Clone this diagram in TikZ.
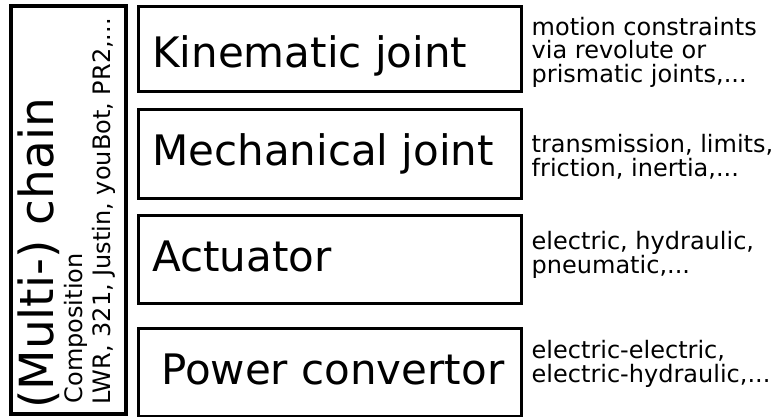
\documentclass[tikz,border=0pt]{standalone}
\usepackage{fontspec}
\setmainfont{DejaVu Sans}
\begin{document}
\begin{tikzpicture}[x=1pt,y=-1pt,
  layer/.style={draw=black,line width=3pt},
  big/.style={inner sep=0pt,anchor=base west,font=\fontsize{42}{46}\selectfont},
  desc/.style={inner sep=0pt,anchor=base west,align=left,font=\fontsize{24}{23.5}\selectfont},
  side/.style={inner sep=0pt,anchor=base west,rotate=90}]
\useasboundingbox (0,0) rectangle (775,416);
% left composition box
\draw[line width=3.5pt] (11,6) rectangle (126,414);
\node[side,font=\fontsize{47}{50}\selectfont] (chain) at (53,409) {(Multi-) chain};
\node[side,font=\fontsize{24}{26}\selectfont] (comp) at (82,403.5) {Composition};
\node[side,font=\fontsize{24}{26}\selectfont] (ex) at (110,404.5) {LWR, 321, Justin, youBot, PR2,...};
% layer boxes
\draw[layer] (138,6.5) rectangle (521,91.5);
\draw[layer] (138,109) rectangle (521,198);
\draw[layer] (138,215) rectangle (521,303.5);
\draw[layer] (138,328.5) rectangle (521,416);
\node[big] (kin) at (152,67) {Kinematic joint};
\node[big] (mech) at (152,165) {Mechanical joint};
\node[big] (act) at (152,271) {Actuator};
\node[big] (pow) at (161,384) {Power convertor};
% descriptions (anchored at the baseline of the last line)
\node[desc] (dkin) at (531.5,82) {motion constraints\\via revolute or\\prismatic joints,...};
\node[desc] (dmech) at (531.5,176) {transmission, limits,\\friction, inertia,...};
\node[desc] (dact) at (531.5,273) {electric, hydraulic,\\pneumatic,...};
\node[desc] (dpow) at (531.5,382) {electric-electric,\\electric-hydraulic,...};
\end{tikzpicture}
\end{document}
